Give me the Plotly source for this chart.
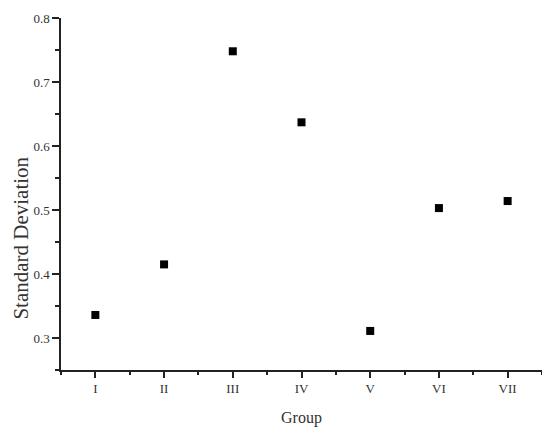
import plotly.graph_objects as go

groups = ["I", "II", "III", "IV", "V", "VI", "VII"]
positions = [1, 2, 3, 4, 5, 6, 7]
std_dev = [0.336, 0.415, 0.748, 0.637, 0.311, 0.503, 0.514]
y_ticks = [0.3, 0.4, 0.5, 0.6, 0.7, 0.8]

font_family = "Liberation Serif, Times New Roman, serif"
axis_col = "#222"

fig = go.Figure(
    go.Scatter(
        x=positions,
        y=std_dev,
        mode="markers",
        marker=dict(symbol="square", size=8, color="black"),
        showlegend=False,
    )
)

# page body has an 8px margin, so the figure is sized to fit the window
fig.update_layout(
    width=542,
    height=422,
    margin=dict(l=53, r=8, t=10, b=60, autoexpand=False),
    plot_bgcolor="white",
    paper_bgcolor="white",
    font=dict(family=font_family, color="#333"),
)

fig.update_xaxes(
    range=[0.5, 7.5],
    tickvals=positions,
    ticktext=groups,
    ticks="outside",
    ticklen=6,
    tickwidth=1.5,
    tickcolor=axis_col,
    minor=dict(tickvals=[p + 0.5 for p in [0] + positions], ticks="outside",
               ticklen=3, tickwidth=1.5, tickcolor=axis_col),
    showline=True,
    linecolor=axis_col,
    linewidth=1.5,
    showgrid=False,
    zeroline=False,
    automargin=False,
    tickfont=dict(size=13, color="#333"),
    title=dict(text="Group", font=dict(size=16, color="#333"), standoff=16),
)

fig.update_yaxes(
    range=[0.25, 0.8],
    tickvals=y_ticks,
    ticktext=[f"{v:.1f}" for v in y_ticks],
    ticks="outside",
    ticklen=7,
    tickwidth=1.5,
    tickcolor=axis_col,
    minor=dict(dtick=0.05, tick0=0.25, ticks="outside", ticklen=4,
               tickwidth=1.5, tickcolor=axis_col),
    showline=True,
    linecolor=axis_col,
    linewidth=1.5,
    showgrid=False,
    zeroline=False,
    automargin=False,
    tickfont=dict(size=13, color="#333"),
)

# y title sits a bit below the middle of the axis, as in the original
fig.add_annotation(
    text="Standard Deviation",
    textangle=-90,
    xref="paper", yref="paper",
    x=-0.084, y=0.375,
    xanchor="center", yanchor="middle",
    showarrow=False,
    font=dict(size=21, color="#333"),
)

fig.write_html("out.html")
